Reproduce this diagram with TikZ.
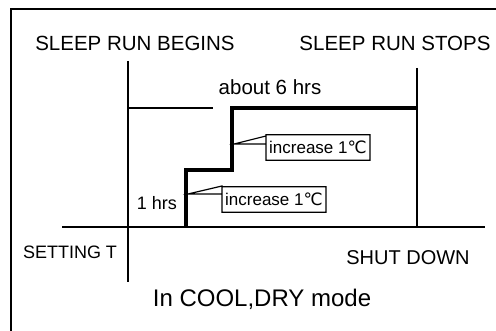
\documentclass[tikz,border=0pt]{standalone}
\usepackage{fontspec}
\setmainfont{Liberation Sans}
\newfontfamily\dejavu{DejaVu Sans}
\newcommand{\degC}{{\dejavu ℃}}
\begin{document}
\begin{tikzpicture}[x=1pt,y=-1pt,
  lbl/.style={inner sep=0pt,font=\fontsize{20.5pt}{24pt}\selectfont},
  callout/.style={inner xsep=3pt,inner ysep=4pt,font=\fontsize{17pt}{20pt}\selectfont,minimum height=25pt,anchor=west},
  frame/.style={line width=1.8pt},
  axis/.style={line width=1.8pt},
  thick step/.style={line width=4.5pt},
  box/.style={line width=1.2pt}]
\useasboundingbox (0,0) rectangle (496,331);
% frame
\coordinate (f1) at (11,331);
\coordinate (f2) at (11,9);
\coordinate (f3) at (496,9);
\draw[frame] (f1) -- (f2) -- (f3);
% labels
\node[lbl] (begins) at (135,43) {SLEEP RUN BEGINS};
\node[lbl] (stops) at (395,43) {SLEEP RUN STOPS};
\node[lbl] (six) at (270,87) {about 6 hrs};
\node[lbl,font=\fontsize{18pt}{21pt}\selectfont] (one) at (157,203) {1 hrs};
\node[lbl,font=\fontsize{18pt}{21pt}\selectfont] (setting) at (70,252) {SETTING T};
\node[lbl,font=\fontsize{20pt}{24pt}\selectfont] (shut) at (408,258) {SHUT DOWN};
\node[lbl,font=\fontsize{24pt}{28pt}\selectfont] (mode) at (262,299) {In COOL,DRY mode};
% verticals and axis
\coordinate (lvtop) at (128,61);
\coordinate (lvbot) at (128,282);
\coordinate (rvtop) at (417,68);
\coordinate (rvbot) at (417,227);
\coordinate (axl) at (62,227);
\coordinate (axr) at (485,227);
\draw[axis] (lvtop) -- (lvbot);
\draw[axis] (rvtop) -- (rvbot);
\draw[axis] (axl) -- (axr);
% thin line
\coordinate (thinl) at (128,108);
\coordinate (thinr) at (213,108);
\draw[axis] (thinl) -- (thinr);
% thick step
\coordinate (s1) at (417,108);
\coordinate (s2) at (232,108);
\coordinate (s3) at (232,170);
\coordinate (s4) at (186,170);
\coordinate (s5) at (186,227);
\draw[thick step] (s1) -- (s2) -- (s3) -- (s4) -- (s5);
% callouts
\coordinate (tip1) at (234,144);
\node[callout] (box1) at (266,147.5) {increase 1\degC};
\draw[box] (box1.west |- tip1) -- (box1.north west) -- (box1.north east) -- (box1.south east) -- (box1.south west) -- ([yshift=8pt]box1.west |- tip1) -- (tip1) -- cycle;
\coordinate (tip2) at (188,194);
\node[callout] (box2) at (222,199.5) {increase 1\degC};
\draw[box] (box2.west |- tip2) -- (box2.north west) -- (box2.north east) -- (box2.south east) -- (box2.south west) -- ([yshift=8pt]box2.west |- tip2) -- (tip2) -- cycle;
\end{tikzpicture}
\end{document}
